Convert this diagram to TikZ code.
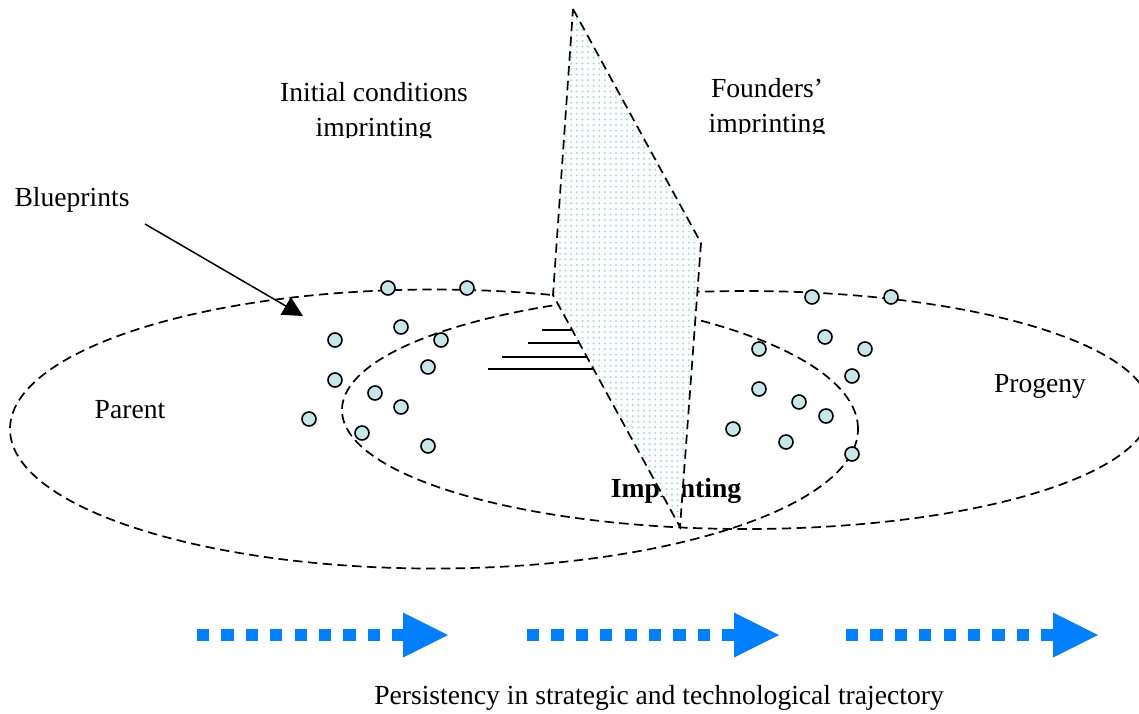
\documentclass[tikz,border=0pt]{standalone}
\usepackage{fontspec}
\setmainfont{Liberation Serif}
\usetikzlibrary{arrows.meta,patterns.meta}
\definecolor{dotfill}{RGB}{200,230,232}
\definecolor{planedot}{RGB}{175,220,226}
\definecolor{arrowblue}{RGB}{0,128,255}
\tikzdeclarepattern{
  name=pdots,
  type=uncolored,
  bottom left={(-.7pt,-.7pt)},
  top right={(.7pt,.7pt)},
  tile size={(2.8pt,2.8pt)},
  code={\fill (0pt,0pt) circle [radius=.6pt];}
}
\begin{document}
\begin{tikzpicture}[x=0.5pt,y=-0.5pt,
  dline/.style={draw=black, line width=0.85pt, dash pattern=on 4.7pt off 2.7pt},
  seed/.style={circle, draw=black, fill=dotfill, line width=0.8pt, minimum size=7pt, inner sep=0pt},
  lbl/.style={font=\fontsize{13.8}{16}\selectfont, inner sep=0pt, anchor=base},
  blbl/.style={lbl, font=\fontsize{13.8}{16}\selectfont\bfseries},
  flow/.style={draw=arrowblue, line width=6pt, dash pattern=on 6.1pt off 6.1pt,
    -{Triangle[length=22.5pt,width=22.5pt,line width=0pt,fill=arrowblue]}},
  hatch/.style={draw=black, line width=1pt},
  pointer/.style={draw=black, line width=0.75pt, -{Triangle[length=10pt,width=10pt]}}
]
\useasboundingbox (0,0) rectangle (1139,713);
\clip (0,0) rectangle (1139,713);

% parent and progeny ellipses
\draw[dline] (434,429) ellipse [x radius=212pt, y radius=69.75pt];
\draw[dline] (746,410) ellipse [x radius=202pt, y radius=59.5pt];

% text partly hidden by the plane
\node[blbl] (imp) at (676,497) {Imprinting};

% hatch lines
\draw[hatch] (541.7,330) -- (572.1,330);
\draw[hatch] (528.3,343.3) -- (579.3,343.3);
\draw[hatch] (501.7,356.7) -- (586.6,356.7);
\draw[hatch] (488.3,369.3) -- (593.5,369.3);

% plane
\coordinate (pT) at (573,9);
\coordinate (pR) at (701,243);
\coordinate (pB) at (680,527);
\coordinate (pL) at (553,295);
\fill[white] (pT) -- (pR) -- (pB) -- (pL) -- cycle;
\fill[pattern=pdots, pattern color=planedot] (pT) -- (pR) -- (pB) -- (pL) -- cycle;
\draw[dline] (pT) -- (pR) -- (pB) -- (pL) -- cycle;

% seeds (left)
\foreach \x/\y [count=\i] in {388/288, 467/288, 335/340, 401/327, 441/340, 428/367,
  335/380, 375/393, 401/407, 309/419, 362/433, 428/446}
  \node[seed] (l\i) at (\x,\y) {};
% seeds (right)
\foreach \x/\y [count=\i] in {812/297, 891/297, 825/337, 865/349, 759/349, 852/376,
  759/389, 799/402, 826/416, 733/429, 786/442, 852/454}
  \node[seed] (r\i) at (\x,\y) {};

% labels
\node[lbl] (ic1) at (374,101) {Initial conditions};
\begin{scope}
  \clip (250,106) rectangle (500,137);
  \node[lbl] (ic2) at (374,136) {imprinting};
\end{scope}
\node[lbl] (f1) at (767,97) {Founders’};
\begin{scope}
  \clip (650,102) rectangle (880,133);
  \node[lbl] (f2) at (767,132) {imprinting};
\end{scope}
\node[lbl] (bp) at (72,206) {Blueprints};
\node[lbl] (parent) at (130,418) {Parent};
\node[lbl] (progeny) at (1040,392) {Progeny};
\node[lbl] (pers) at (659,704) {Persistency in strategic and technological trajectory};

% blueprint pointer
\coordinate (bpS) at (145,224);
\coordinate (bpE) at (303,316);
\draw[pointer] (bpS) -- (bpE);

% trajectory arrows
\coordinate (a1s) at (197,635); \coordinate (a1e) at (448,635);
\coordinate (a2s) at (527,635); \coordinate (a2e) at (779,635);
\coordinate (a3s) at (846,635); \coordinate (a3e) at (1098,635);
\draw[flow] (a1s) -- (a1e);
\draw[flow] (a2s) -- (a2e);
\draw[flow] (a3s) -- (a3e);
\end{tikzpicture}
\end{document}
